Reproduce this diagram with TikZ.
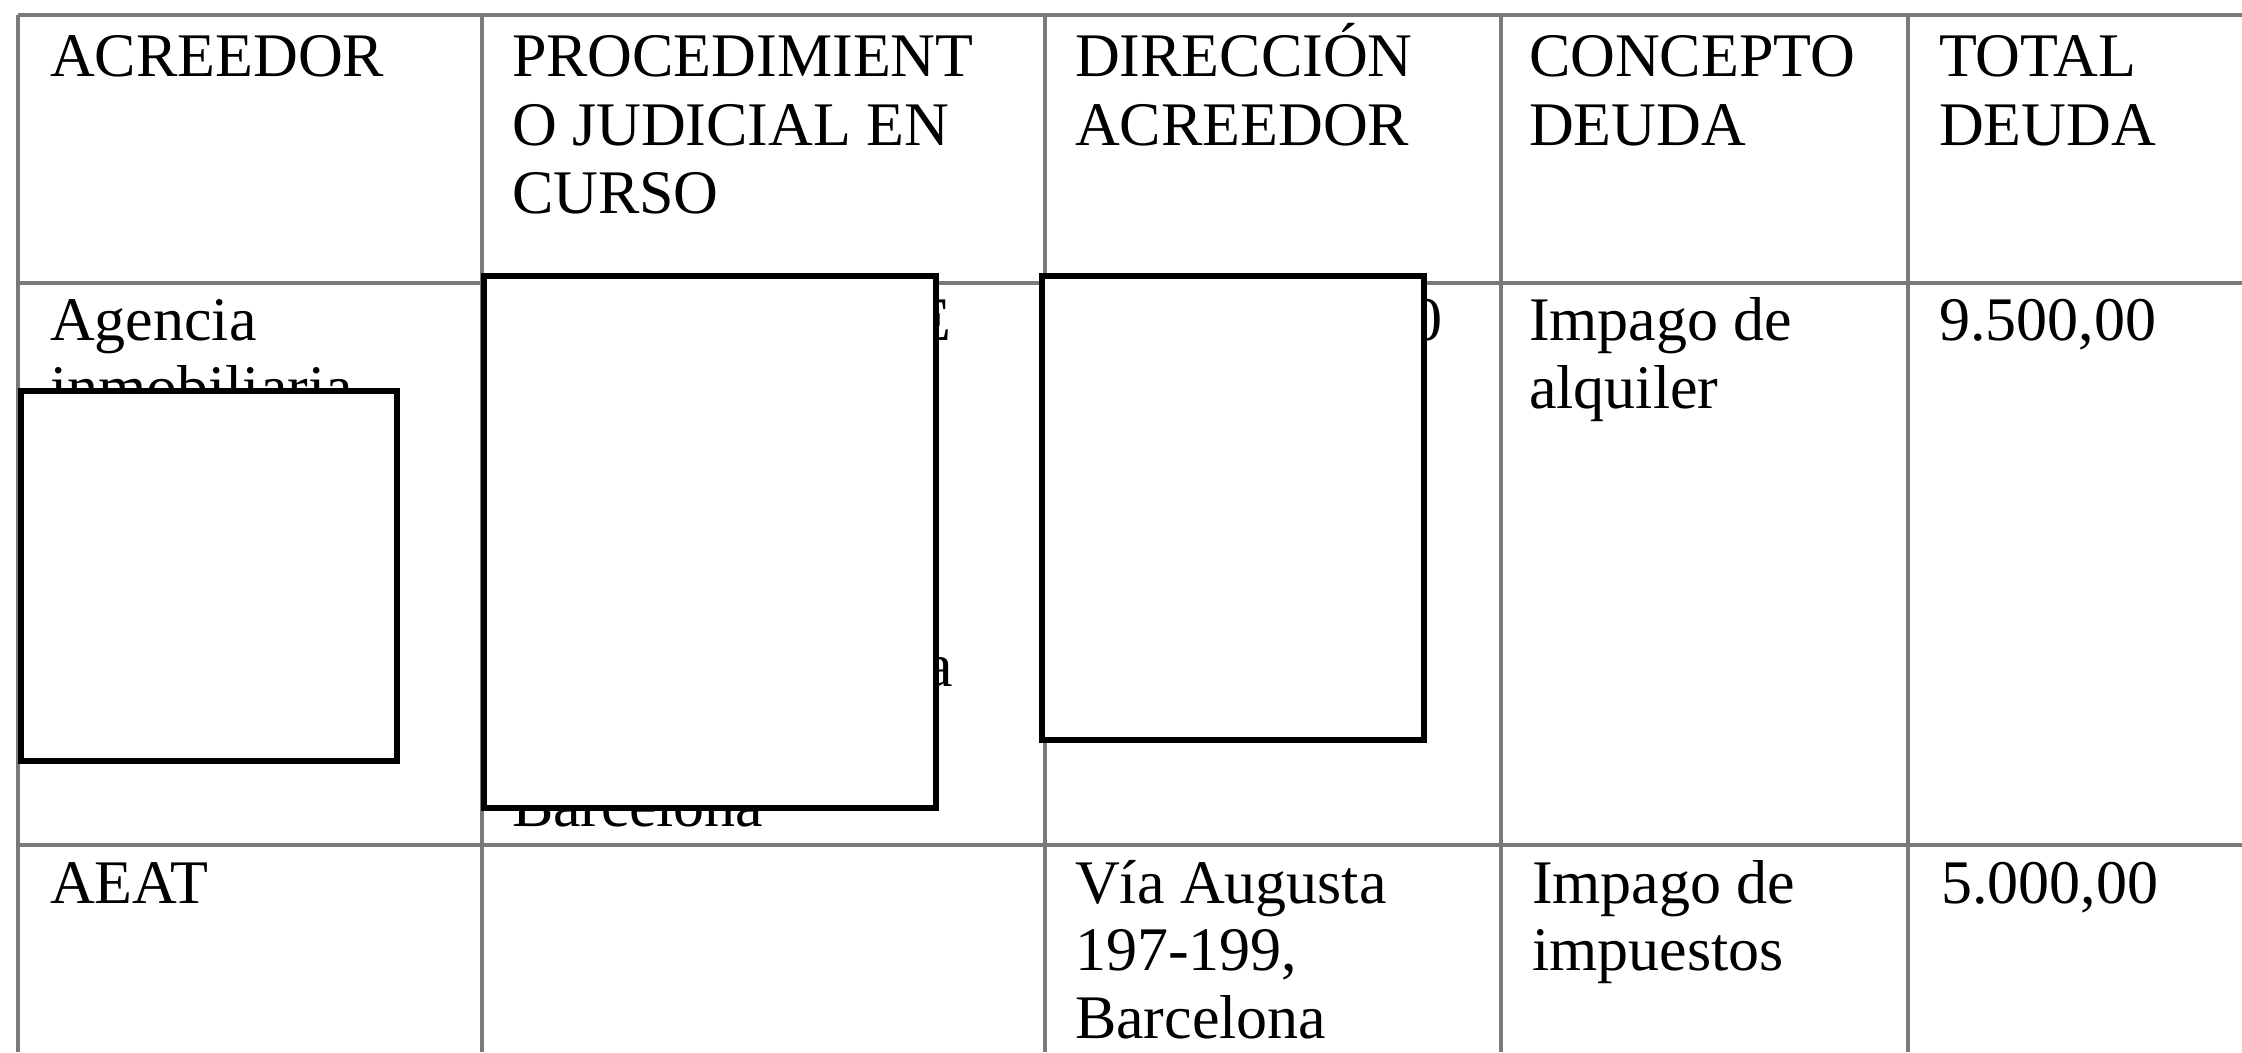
\documentclass[tikz,border=0pt]{standalone}
\usepackage{fontspec}
\setmainfont{Liberation Serif}
\definecolor{linegray}{HTML}{7A7A7A}
\tikzset{
  gridline/.style={draw=linegray, line width=3.5pt},
  rowline/.style={draw=linegray, line width=4.5pt},
  redact/.style={draw=black, line width=6pt, fill=white},
  cell/.style={anchor=base west, inner sep=0pt, outer sep=0pt, font=\fontsize{62}{68}\selectfont, text=black},
  frag/.style={anchor=base east, inner sep=0pt, outer sep=0pt, font=\fontsize{62}{68}\selectfont, text=black}
}
\begin{document}
\begin{tikzpicture}[x=1pt,y=-1pt]
\useasboundingbox (0,0) rectangle (2242,1052);
\fill[white] (0,0) rectangle (2242,1052);
% table grid
\coordinate (tl) at (18,15);
\coordinate (tr) at (2242,15);
\coordinate (hl) at (18,283);
\coordinate (hr) at (2242,283);
\coordinate (rl) at (18,845);
\coordinate (rr) at (2242,845);
\draw[rowline] (tl) -- (tr);
\draw[rowline] (hl) -- (hr);
\draw[rowline] (rl) -- (rr);
\foreach \cx [count=\i] in {18,482,1045,1501,1908}{
  \coordinate (vt\i) at (\cx,15);
  \coordinate (vb\i) at (\cx,1052);
  \draw[gridline] (vt\i) -- (vb\i);
}
% header
\node[cell] (h1) at (50,76) {ACREEDOR};
\node[cell] (h2a) at (512,76) {PROCEDIMIENT};
\node[cell] (h2b) at (512,145) {O JUDICIAL EN};
\node[cell] (h2c) at (512,213) {CURSO};
\node[cell] (h3a) at (1075,76) {DIRECCIÓN};
\node[cell] (h3b) at (1075,145) {ACREEDOR};
\node[cell] (h4a) at (1529,76) {CONCEPTO};
\node[cell] (h4b) at (1529,145) {DEUDA};
\node[cell] (h5a) at (1939,76) {TOTAL};
\node[cell] (h5b) at (1939,145) {DEUDA};
% row 1
\node[cell] (r1a) at (50,340) {Agencia};
\node[cell] (r1b) at (50,408) {inmobiliaria};
\node[frag] (f1) at (951,340) {E};
\node[frag] (f2) at (953,686) {a};
\node[cell] (r1bar) at (512,826) {Barcelona};
\node[frag] (f3) at (1442,340) {0};
\node[cell] (r1c) at (1529,340) {Impago de};
\node[cell] (r1d) at (1529,408) {alquiler};
\node[cell] (r1e) at (1939,340) {9.500,00};
% row 2
\node[cell] (r2a) at (50,903) {AEAT};
\node[cell] (r2b) at (1075,903) {Vía Augusta};
\node[cell] (r2c) at (1075,970) {197-199,};
\node[cell] (r2d) at (1075,1038) {Barcelona};
\node[cell] (r2e) at (1532,903) {Impago de};
\node[cell] (r2f) at (1532,970) {impuestos};
\node[cell] (r2g) at (1941,903) {5.000,00};
% redaction boxes
\draw[redact] (21,391) rectangle (397,761);
\draw[redact] (484,276) rectangle (936,808);
\draw[redact] (1042,276) rectangle (1424,740);
\end{tikzpicture}
\end{document}
